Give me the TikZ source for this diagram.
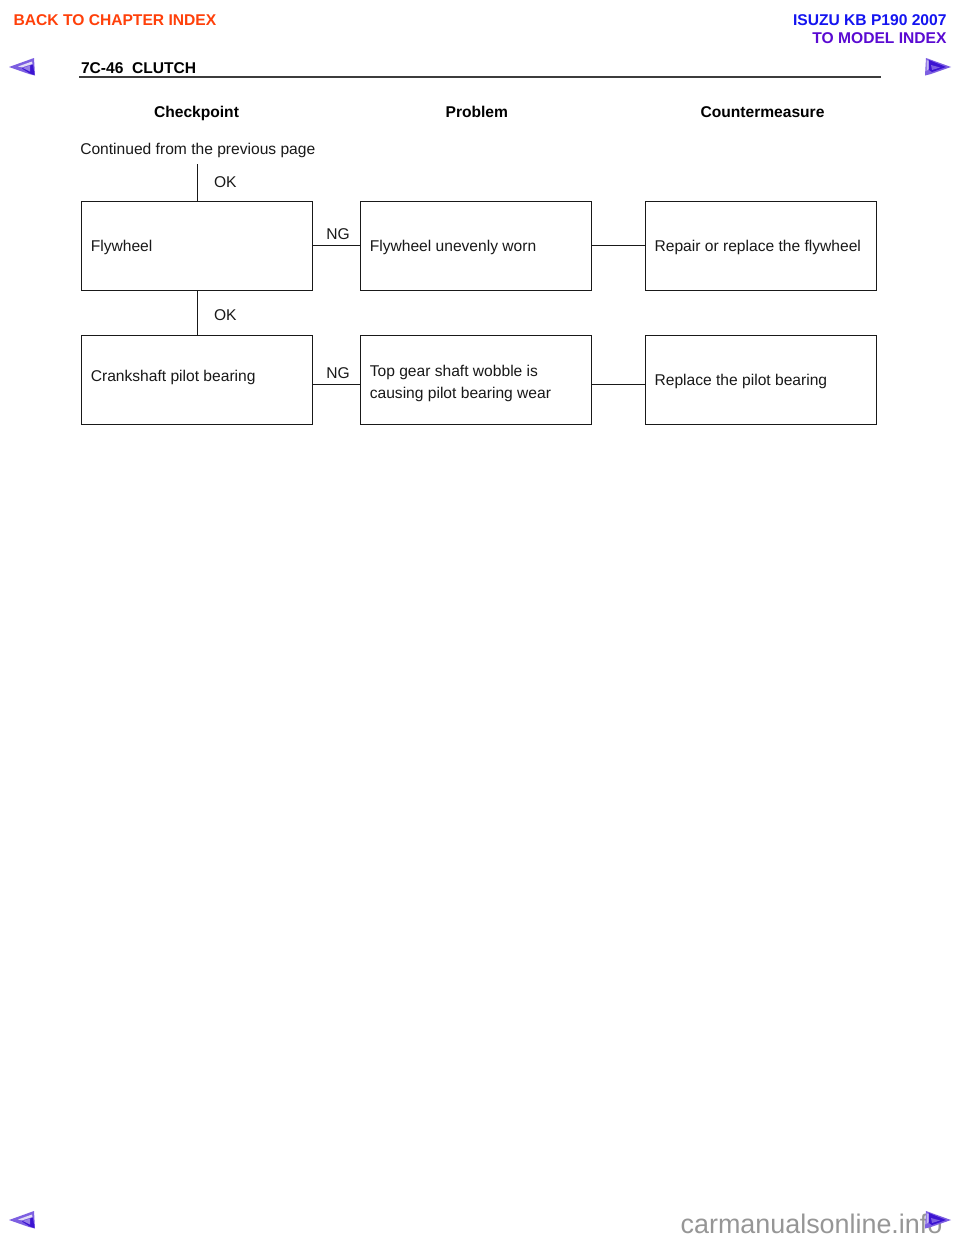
\documentclass[tikz,border=0pt]{standalone}
\usepackage{fontspec}
\setmainfont{Liberation Sans}
\definecolor{backred}{RGB}{255,64,10}
\definecolor{isuzublue}{RGB}{20,20,240}
\definecolor{modelviolet}{RGB}{90,10,210}
\definecolor{arrowmid}{RGB}{125,95,225}
\definecolor{arrowdark}{RGB}{60,20,210}
\definecolor{arrowlight}{RGB}{225,220,245}
\definecolor{wmgray}{RGB}{150,150,150}
\definecolor{rulegray}{RGB}{60,60,60}
\definecolor{linegray}{RGB}{25,25,25}
\tikzset{
  x=1pt,y=-1pt,
  txt/.style={anchor=base west,inner sep=0pt,outer sep=0pt,font=\fontsize{15.6}{18}\selectfont,text=black!90},
  head/.style={anchor=base,inner sep=0pt,outer sep=0pt,font=\fontsize{15.6}{18}\selectfont\bfseries,text=black},
  toplink/.style={inner sep=0pt,outer sep=0pt,font=\fontsize{15.6}{18}\selectfont\bfseries},
  boxn/.style={draw=linegray,line width=1.2pt,minimum width=231.2pt,minimum height=88.9pt,inner sep=0pt,outer sep=0pt,anchor=north west},
  conn/.style={draw=linegray,line width=1.1pt},
}
\newcommand{\navleft}[2]{%
  \begin{scope}[shift={(#1,#2)}]
    \fill[arrowmid] (0,0) -- (25,-9) -- (26,8.5) -- (20,7) -- cycle;
    \fill[arrowdark] (13,1.5) -- (24,-2.5) -- (25.5,8) -- (21,6.5) -- cycle;
    \fill[arrowmid!80!white] (14,1) -- (21,-1.5) -- (21,4.5) -- cycle;
    \fill[arrowlight] (9,-0.5) -- (23,-5.5) -- (23.5,-3) -- (13,0.3) -- cycle;
  \end{scope}}
\newcommand{\navright}[2]{%
  \begin{scope}[shift={(#1,#2)}]
    \fill[arrowmid] (26,0) -- (1,-9) -- (0,8.5) -- (6,7) -- cycle;
    \fill[arrowdark] (4,-7) -- (21,0) -- (7,5) -- (4,3) -- cycle;
    \fill[arrowmid] (6,-2) -- (15,0.5) -- (7,3) -- cycle;
    \fill[arrowlight!70!arrowmid] (1.5,-7) -- (3.5,-6) -- (3.5,2) -- (1.5,4) -- cycle;
  \end{scope}}
\begin{document}
\begin{tikzpicture}
\useasboundingbox (0,0) rectangle (960,1242);
\fill[white] (0,0) rectangle (960,1242);

\node[toplink,anchor=base west,text=backred] (back) at (13.7,25.5) {BACK TO CHAPTER INDEX};
\node[toplink,anchor=base east,text=isuzublue] (isuzu) at (946.5,25.5) {ISUZU KB P190 2007};
\node[toplink,anchor=base east,text=modelviolet] (model) at (946.5,43) {TO MODEL INDEX};

\navleft{9}{67}
\navright{925}{67}
\navleft{9}{1220}

\node[toplink,anchor=base west,text=black] (title) at (81,73) {7C-46\hspace{0.55em}CLUTCH};
\coordinate (ruleL) at (79,76.8);
\coordinate (ruleR) at (881,76.8);
\draw[rulegray,line width=1.6pt] (ruleL) -- (ruleR);

\node[head] (h1) at (196.5,117) {Checkpoint};
\node[head] (h2) at (476.8,117) {Problem};
\node[head] (h3) at (762.5,117) {Countermeasure};

\node[txt] (cont) at (80.3,154) {Continued from the previous page};
\coordinate (start) at (197.5,164);

\node[boxn] (b1) at (81.2,201.2) {};
\node[boxn] (b2) at (360.4,201.2) {};
\node[boxn] (b3) at (645.4,201.2) {};
\node[boxn] (b4) at (81.2,335.4) {};
\node[boxn] (b5) at (360.4,335.4) {};
\node[boxn] (b6) at (645.4,335.4) {};

\node[txt] (t1) at (90.8,251) {Flywheel};
\node[txt] (t2) at (369.8,251) {Flywheel unevenly worn};
\node[txt] (t3) at (654.6,251) {Repair or replace the flywheel};
\node[txt] (t4) at (90.8,381) {Crankshaft pilot bearing};
\node[txt] (t5a) at (369.8,376) {Top gear shaft wobble is};
\node[txt] (t5b) at (369.8,398) {causing pilot bearing wear};
\node[txt] (t6) at (654.6,385) {Replace the pilot bearing};

\node[txt] (ok1) at (214,187.5) {OK};
\node[txt] (ok2) at (214,320.5) {OK};
\node[txt] (ng1) at (326.3,239) {NG};
\node[txt] (ng2) at (326.3,378) {NG};

\draw[conn] (start) -- (start |- b1.north);
\draw[conn] (start |- b1.south) -- (start |- b4.north);
\draw[conn] (b1.east) -- (b2.west);
\draw[conn] (b2.east) -- (b3.west);
\coordinate (j1) at (b4.east |- 0,384.4);
\coordinate (j2) at (b5.west |- 0,384.4);
\coordinate (j3) at (b5.east |- 0,384.4);
\coordinate (j4) at (b6.west |- 0,384.4);
\draw[conn] (j1) -- (j2);
\draw[conn] (j3) -- (j4);

\node[anchor=base west,inner sep=0pt,text=wmgray,font=\fontsize{26.9}{30}\selectfont] (wm) at (680.5,1233.5) {carmanualsonline.info};
\navright{925}{1220}
\end{tikzpicture}
\end{document}
